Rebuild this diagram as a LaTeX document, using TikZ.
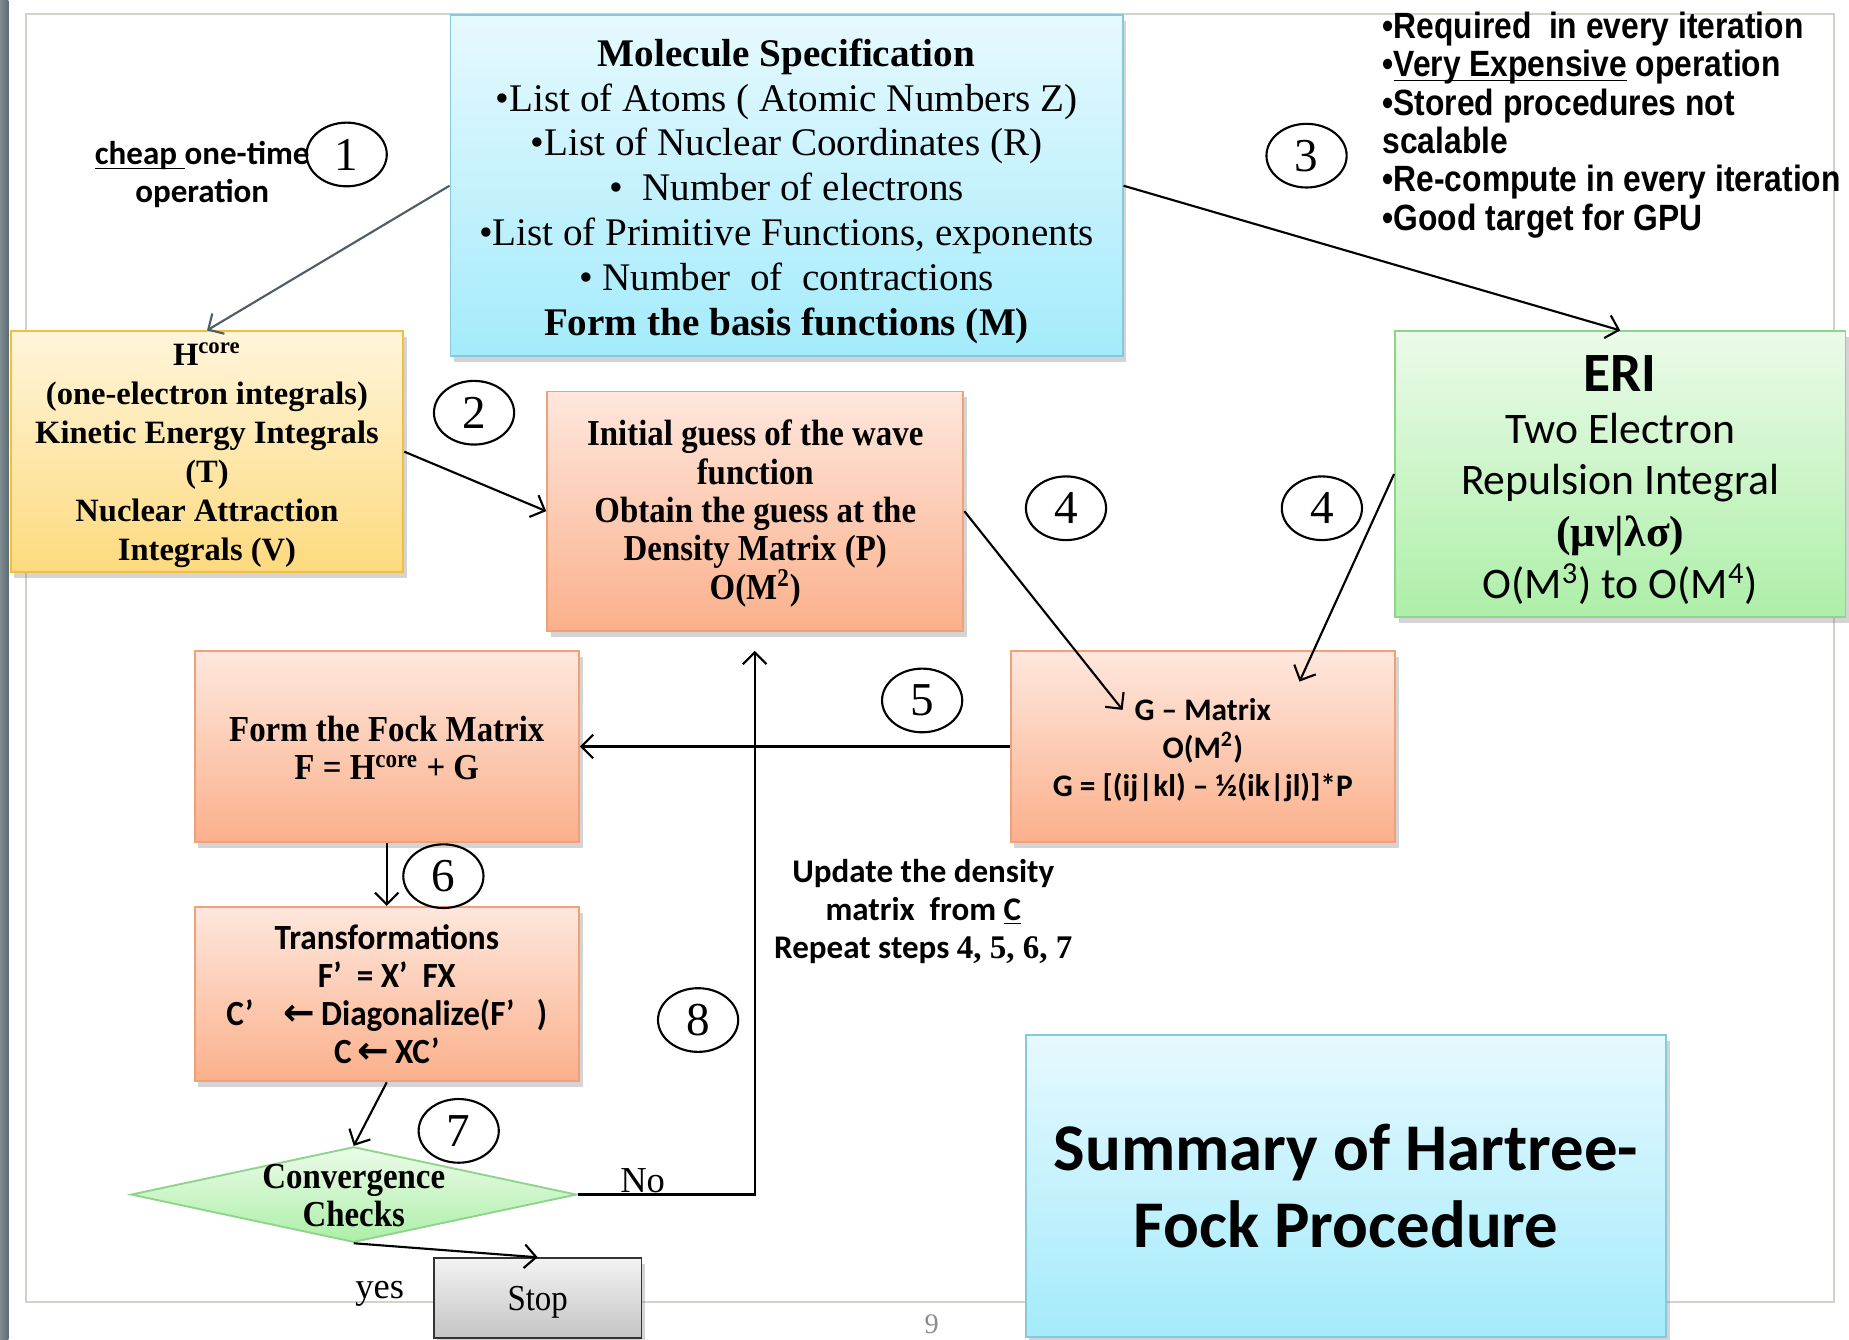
\documentclass[tikz,border=0pt]{standalone}
\usepackage{fontspec}
\setmainfont{Liberation Serif}
\newfontfamily\calfont{Carlito}
\newfontfamily\calcond[FakeStretch=0.94]{Carlito}
\newfontfamily\sercond[FakeStretch=0.9]{Liberation Serif}
\newfontfamily\narrowfont[FakeStretch=0.87]{Liberation Sans}
\newfontfamily\djv{DejaVu Sans}
\newcommand\myul[1]{\underline{\smash{#1}}}
\usetikzlibrary{shapes.geometric,shadows,arrows.meta}

\definecolor{cyanT}{HTML}{E6F9FE}
\definecolor{cyanBt}{HTML}{A4EBFB}
\definecolor{cyanD}{HTML}{86C9DE}
\definecolor{yelT}{HTML}{FFF5DB}
\definecolor{yelBt}{HTML}{FDDA7E}
\definecolor{yelD}{HTML}{F2BE3E}
\definecolor{salT}{HTML}{FEE7DD}
\definecolor{salBt}{HTML}{FBB08B}
\definecolor{salD}{HTML}{F1A078}
\definecolor{grnT}{HTML}{EBFBE9}
\definecolor{grnBt}{HTML}{ADEFA8}
\definecolor{grnD}{HTML}{8ED48A}
\definecolor{gryT}{HTML}{F3F3F3}
\definecolor{gryBt}{HTML}{C4C4C4}
\definecolor{frameC}{HTML}{D2D2CA}
\definecolor{stripC}{HTML}{5E6E75}
\definecolor{slateC}{HTML}{4E5E66}

\tikzset{
  box/.style={draw, line width=0.8pt, inner sep=2pt, align=center,
    drop shadow={shadow xshift=1.5pt, shadow yshift=-2.5pt, opacity=0.3, fill=black!55}},
  cyanbox/.style={box, draw=cyanD, top color=cyanT, bottom color=cyanBt},
  yelbox/.style={box, draw=yelD, top color=yelT, bottom color=yelBt},
  salbox/.style={box, draw=salD, top color=salT, bottom color=salBt},
  grnbox/.style={box, draw=grnD, top color=grnT, bottom color=grnBt},
  numel/.style={ellipse, draw, line width=0.9pt, minimum width=34pt, minimum height=27pt,
    inner sep=0pt, font=\fontsize{20}{20}\selectfont},
  conn/.style={-{Straight Barb[length=5pt,width=10pt]}, line width=0.9pt},
  plain/.style={inner sep=0pt, align=center}
}

\begin{document}
\begin{tikzpicture}[x=0.5pt,y=-0.5pt]
\clip (0,0) rectangle (1568,1136);
\fill[white] (0,0) rectangle (1568,1136);
% left strip and slide frame
\shade[left color=stripC!80, right color=stripC] (0,0) rectangle (7,1136);
\draw[frameC, line width=1pt] (22,12) rectangle (1555,1104);
\node[plain, text=black!45, font=\fontsize{12}{12}\selectfont] (pg) at (790,1123) {9};

% boxes
\node[cyanbox, minimum width=285pt, minimum height=144.5pt] (mol) at (667,157.5) {};
\node[plain, font=\fontsize{16.6}{19}\selectfont] (moltext) at (667,162)
  {{\bfseries Molecule Specification}\\
   •List of Atoms ( Atomic Numbers Z)\\
   •List of Nuclear Coordinates (R)\\
   •\ \ Number of electrons\\
   •List of Primitive Functions, exponents\\
   • Number\ \ of\ \ contractions\\
   {\bfseries Form the basis functions (M)}};

\node[yelbox, minimum width=166.5pt, minimum height=102pt] (hcore) at (175.5,383) {};
\node[plain, font=\bfseries\fontsize{13.8}{16.5}\selectfont] (hcoretext) at (175.5,386)
  {H\textsuperscript{core}\\(one-electron integrals)\\Kinetic Energy Integrals\\(T)\\Nuclear Attraction\\Integrals (V)};

\node[salbox, minimum width=176.5pt, minimum height=101.5pt] (guess) at (640.5,433.5) {};
\node[plain, font=\sercond\bfseries\fontsize{15.5}{16.25}\selectfont] (guesstext) at (640.5,435.5)
  {Initial guess of the wave\\function\\Obtain the guess at the\\Density Matrix (P)\\O(M\textsuperscript{2})};

\node[grnbox, minimum width=191pt, minimum height=121pt] (eri) at (1374,402) {};
\node[plain, font=\calfont\fontsize{18.5}{22}\selectfont] (eritext) at (1374,407)
  {{\bfseries\fontsize{23.5}{22}\selectfont ERI}\\Two Electron\\Repulsion Integral\\{\rmfamily\bfseries (μν|λσ)}\\O(M\textsuperscript{3}) to O(M\textsuperscript{4})};

\node[salbox, minimum width=163pt, minimum height=81pt] (fock) at (328,633) {};
\node[plain, font=\sercond\bfseries\fontsize{15.5}{16}\selectfont] (focktext) at (328,634.5)
  {Form the Fock Matrix\\F = H\textsuperscript{core} + G};

\node[salbox, minimum width=163pt, minimum height=81pt] (gmat) at (1020,633) {};
\node[plain, font=\calfont\bfseries\fontsize{13.3}{16}\selectfont] (gmattext) at (1020,636)
  {G – Matrix\\O(M\textsuperscript{2})\\G = [(ij|kl) – ½(ik|jl)]*P};

\node[salbox, minimum width=163pt, minimum height=74pt,
  font=\calcond\bfseries\fontsize{15}{16.2}\selectfont] (trans) at (328,843)
  {Transformations\\F’\ \ = X’\ \ FX\\C’\ \ \ \ {\djv\bfseries\fontsize{16}{16}\selectfont ←}\,Diagonalize(F’\ \ \ )\\C\,{\djv\bfseries\fontsize{16}{16}\selectfont ←}\,XC’};

\node[diamond, draw=grnD, line width=0.8pt, top color=grnT, bottom color=grnBt,
  minimum width=189pt, minimum height=40.5pt, inner sep=0pt, shape aspect=4.67] (conv) at (300,1013) {};
\node[plain, font=\sercond\bfseries\fontsize{15.5}{16}\selectfont] (convtext) at (300,1014) {Convergence\\Checks};

\node[box, draw=black!80, top color=gryT, bottom color=gryBt, minimum width=88pt, minimum height=34pt] (stop) at (456,1101) {};
\node[plain, font=\sercond\fontsize{15.5}{16}\selectfont] (stoptext) at (456,1104) {Stop};

\node[cyanbox, minimum width=271.5pt, minimum height=128pt,
  font=\calfont\bfseries\fontsize{28.3}{32.5}\selectfont] (summ) at (1141.5,1006)
  {Summary of Hartree-\\Fock Procedure};

% free connector ends
\coordinate (g4a) at (952,602);
\coordinate (g4b) at (1102,578);
\coordinate (loopend) at (640,552);

% connectors
\draw[conn, slateC] (mol.west) -- (hcore.north);
\draw[conn] (mol.east) -- (eri.north);
\draw[conn] (hcore.east) -- (guess.west);
\draw[conn] (guess.east) -- (g4a);
\draw[conn] (eri.west) -- (g4b);
\draw[conn] (gmat.west) -- (fock.east);
\draw[conn] (fock.south) -- (trans.north);
\draw[conn] (trans.south) -- (conv.north);
\draw[conn] (conv.east) -| (loopend);
\draw[conn] (conv.south) -- (stop.north);

% free texts
\node[plain, font=\calfont\bfseries\fontsize{14}{16}\selectfont] (cheap) at (171.5,148)
  {\myul{cheap\ }one-time\\operation};
\node[plain, anchor=west, align=left, font=\narrowfont\bfseries\fontsize{15.5}{16.25}\selectfont] (notes) at (1172,106)
  {•Required\ \ in every iteration\\•\myul{Very Expensive} operation\\•Stored procedures not\\scalable\\•Re-compute in every iteration\\•Good target for GPU};
\node[plain, font=\calfont\bfseries\fontsize{14}{16.25}\selectfont] (upd) at (783,773)
  {Update the density\\matrix\ \ from \myul{C}\\Repeat steps {\rmfamily 4, 5, 6, 7}};
\node[plain, font=\fontsize{15.5}{16}\selectfont] (nolab) at (545,1001) {No};
\node[plain, font=\fontsize{15.5}{16}\selectfont] (yeslab) at (322,1097) {yes};

% step numbers
\node[numel] (n1) at (294,131) {1};
\node[numel] (n2) at (402,350) {2};
\node[numel] (n3) at (1108,132) {3};
\node[numel] (n4a) at (904,431) {4};
\node[numel] (n4b) at (1121,431) {4};
\node[numel] (n5) at (782,594) {5};
\node[numel] (n6) at (376,743) {6};
\node[numel] (n7) at (389,959) {7};
\node[numel] (n8) at (592,865) {8};
\end{tikzpicture}
\end{document}
